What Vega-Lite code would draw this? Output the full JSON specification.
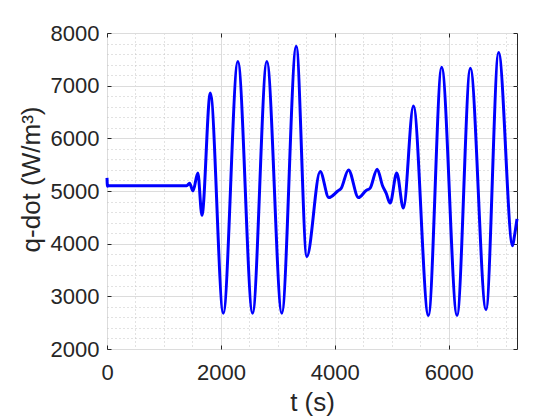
{
  "$schema": "https://vega.github.io/schema/vega-lite/v6.json",
  "width": 410,
  "height": 316,
  "autosize": {"type": "none"},
  "padding": {"left": 107, "top": 33, "right": 43, "bottom": 71},
  "background": "white",
  "config": {
    "view": {"stroke": "#262626", "strokeWidth": 1},
    "font": "Liberation Sans"
  },
  "data": {
    "values": [
      {"t": 0, "q": 5250}, {"t": 8, "q": 5090}, {"t": 40, "q": 5100},
      {"t": 1400, "q": 5100}, {"t": 1450, "q": 5145}, {"t": 1510, "q": 5000},
      {"t": 1595, "q": 5340}, {"t": 1667, "q": 4540}, {"t": 1814, "q": 6860},
      {"t": 2042, "q": 2680}, {"t": 2298, "q": 7460}, {"t": 2556, "q": 2680},
      {"t": 2807, "q": 7460}, {"t": 3070, "q": 2680}, {"t": 3323, "q": 7750},
      {"t": 3509, "q": 3755}, {"t": 3744, "q": 5370}, {"t": 3895, "q": 4875},
      {"t": 4053, "q": 5000}, {"t": 4112, "q": 5050}, {"t": 4240, "q": 5400},
      {"t": 4416, "q": 4875}, {"t": 4551, "q": 5010}, {"t": 4621, "q": 5055},
      {"t": 4744, "q": 5415}, {"t": 4842, "q": 5090}, {"t": 4902, "q": 4960},
      {"t": 4972, "q": 4770}, {"t": 5088, "q": 5340}, {"t": 5205, "q": 4675},
      {"t": 5381, "q": 6615}, {"t": 5644, "q": 2636}, {"t": 5877, "q": 7350},
      {"t": 6147, "q": 2636}, {"t": 6381, "q": 7330}, {"t": 6656, "q": 2744},
      {"t": 6877, "q": 7630}, {"t": 7123, "q": 3960}, {"t": 7153, "q": 4130},
      {"t": 7200, "q": 4470}
    ]
  },
  "encoding": {
    "x": {"field": "t", "type": "quantitative", "scale": {"domain": [0, 7200], "nice": false, "zero": false}},
    "y": {"field": "q", "type": "quantitative", "scale": {"domain": [2000, 8000], "nice": false, "zero": false}}
  },
  "layer": [
    {
      "mark": {"type": "line", "strokeOpacity": 0},
      "encoding": {
        "x": {"field": "t", "type": "quantitative", "axis": {"values": [500, 1000, 1500, 2500, 3000, 3500, 4500, 5000, 5500, 6500, 7000], "grid": true, "gridDash": [1, 3], "gridColor": "#c4c4c4", "gridWidth": 1, "labels": false, "ticks": false, "domain": false, "title": null}},
        "y": {"field": "q", "type": "quantitative", "axis": {"values": [2200, 2400, 2600, 2800, 3200, 3400, 3600, 3800, 4200, 4400, 4600, 4800, 5200, 5400, 5600, 5800, 6200, 6400, 6600, 6800, 7200, 7400, 7600, 7800], "grid": true, "gridDash": [1, 3], "gridColor": "#c4c4c4", "gridWidth": 1, "labels": false, "ticks": false, "domain": false, "title": null}}
      }
    },
    {
      "mark": {"type": "line", "strokeOpacity": 0},
      "encoding": {
        "x": {"field": "t", "type": "quantitative", "axis": {"orient": "top", "values": [0, 2000, 4000, 6000], "grid": false, "labels": false, "ticks": true, "tickSize": -4, "tickColor": "#262626", "domain": false, "title": null}},
        "y": {"field": "q", "type": "quantitative", "axis": {"orient": "right", "values": [2000, 3000, 4000, 5000, 6000, 7000, 8000], "grid": false, "labels": false, "ticks": true, "tickSize": -4, "tickColor": "#262626", "domain": false, "title": null}}
      }
    },
    {
      "mark": {"type": "line", "color": "#0000ff", "strokeWidth": 3, "interpolate": "monotone"},
      "encoding": {
        "x": {"field": "t", "type": "quantitative", "axis": {"values": [0, 2000, 4000, 6000], "format": "d", "grid": true, "gridColor": "#dcdcdc", "gridWidth": 1, "tickSize": -4, "tickColor": "#262626", "domain": false, "labelFontSize": 22, "labelColor": "#262626", "labelPadding": 17, "labelFlush": false, "title": "t (s)", "titleFontSize": 26, "titleFontWeight": "normal", "titleColor": "#262626", "titlePadding": 6}},
        "y": {"field": "q", "type": "quantitative", "axis": {"values": [2000, 3000, 4000, 5000, 6000, 7000, 8000], "grid": true, "gridColor": "#dcdcdc", "gridWidth": 1, "tickSize": -4, "tickColor": "#262626", "domain": false, "labelFontSize": 22, "labelColor": "#262626", "labelPadding": 12, "labelFlush": false, "format": "d", "title": "q-dot (W/m³)", "titleFontSize": 26, "titleFontWeight": "normal", "titleColor": "#262626", "titlePadding": 6, "titleY": 146}}
      }
    }
  ],
  "resolve": {"axis": {"x": "independent", "y": "independent"}}
}
